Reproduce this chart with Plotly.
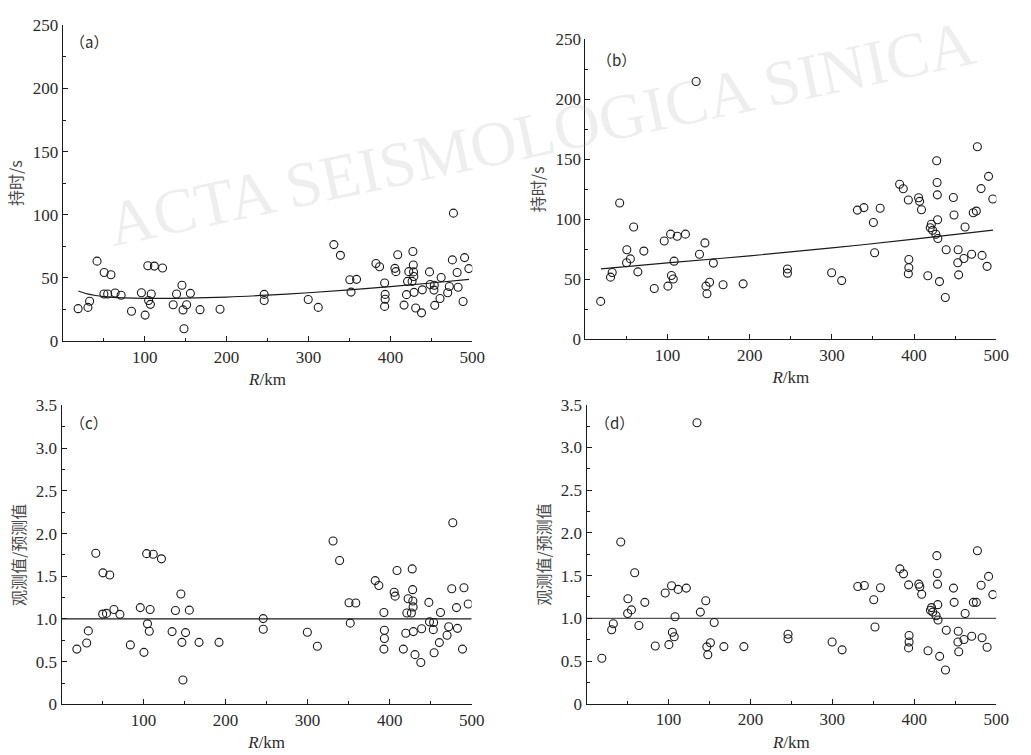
import plotly.graph_objects as go

# ---------------- data ----------------
R = [18.7, 30.7, 32.7, 41.8, 50.5, 50.2, 54.8, 58.8, 63.9, 71.2,
     83.9, 96.0, 100.5, 103.8, 104.8, 107.0, 108.0, 111.8, 121.8, 134.8,
     138.9, 145.5, 146.8, 148.0, 151.2, 155.8, 167.6, 192.0, 245.9, 245.9,
     299.7, 311.9, 331.0, 339.0, 350.5, 352.0, 358.7, 382.4, 386.8, 393.0,
     393.6, 393.6, 393.0, 405.5, 406.7, 409.0, 416.7, 419.7, 421.0, 422.5,
     426.5, 427.5, 428.0, 428.3, 428.6, 428.9, 430.9, 438.0, 439.0, 447.8,
     448.6, 453.6, 453.2, 454.2, 460.6, 462.0, 470.0, 472.0, 475.7, 477.0,
     481.5, 482.7, 488.8, 490.6, 495.8]

dur_a = [25.7, 26.7, 31.6, 63.3, 54.3, 37.3, 37.3, 52.5, 38.1, 36.3,
         23.7, 38.3, 20.6, 59.7, 32.1, 29.1, 37.3, 59.4, 57.9, 28.8,
         37.3, 44.2, 24.7, 9.8, 28.8, 37.8, 24.9, 25.2, 37.0, 32.1,
         32.9, 26.7, 76.4, 67.9, 48.6, 38.8, 48.9, 61.5, 58.9, 46.0,
         37.0, 33.2, 27.5, 57.6, 55.0, 68.4, 28.5, 36.8, 47.3, 55.0,
         47.3, 71.0, 60.2, 54.8, 51.2, 38.6, 26.2, 22.4, 40.6, 54.8,
         44.8, 44.2, 40.4, 28.3, 33.7, 50.4, 38.3, 43.2, 64.3, 101.3,
         54.3, 42.7, 31.4, 66.1, 57.4]

dur_b = [31.7, 51.9, 55.7, 113.6, 74.7, 63.9, 67.1, 93.6, 56.3, 73.6,
         42.5, 82.0, 44.4, 87.7, 53.3, 50.3, 65.2, 86.0, 87.7, 214.8,
         70.9, 80.4, 44.4, 38.1, 47.6, 63.6, 45.5, 46.3, 58.7, 55.2,
         55.5, 49.0, 107.7, 109.8, 97.4, 72.2, 109.3, 129.3, 125.5, 116.1,
         66.6, 59.8, 54.7, 118.0, 115.0, 108.0, 53.0, 93.0, 95.9, 91.0,
         87.6, 148.8, 130.7, 120.4, 99.7, 84.1, 48.2, 34.9, 74.7, 118.2,
         103.6, 74.7, 63.9, 53.8, 67.4, 93.6, 70.9, 105.5, 106.9, 160.5,
         125.6, 70.0, 60.9, 135.8, 116.9]

ratio_c = [0.647, 0.719, 0.860, 1.769, 1.540, 1.057, 1.065, 1.514, 1.110, 1.054,
           0.696, 1.133, 0.609, 1.765, 0.943, 0.856, 1.110, 1.757, 1.704, 0.852,
           1.099, 1.293, 0.726, 0.285, 0.840, 1.103, 0.726, 0.726, 1.004, 0.879,
           0.844, 0.681, 1.913, 1.685, 1.190, 0.951, 1.187, 1.449, 1.392, 1.076,
           0.867, 0.772, 0.647, 1.312, 1.267, 1.567, 0.647, 0.833, 1.069, 1.236,
           1.069, 1.586, 1.343, 1.210, 1.141, 0.852, 0.582, 0.491, 0.886, 1.194,
           0.966, 0.959, 0.875, 0.605, 0.723, 1.076, 0.810, 0.909, 1.354, 2.126,
           1.133, 0.890, 0.647, 1.366, 1.175]

ratio_d = [0.533, 0.867, 0.936, 1.894, 1.229, 1.057, 1.099, 1.533, 0.917, 1.187,
           0.677, 1.297, 0.692, 1.381, 0.837, 0.784, 1.019, 1.339, 1.354, 3.290,
           1.073, 1.206, 0.666, 0.574, 0.715, 0.951, 0.669, 0.669, 0.814, 0.761,
           0.723, 0.631, 1.373, 1.385, 1.217, 0.898, 1.358, 1.579, 1.521, 1.392,
           0.799, 0.723, 0.654, 1.400, 1.369, 1.282, 0.620, 1.095, 1.126, 1.073,
           1.031, 1.734, 1.525, 1.400, 1.160, 0.981, 0.555, 0.396, 0.860, 1.354,
           1.187, 0.848, 0.723, 0.609, 0.753, 1.057, 0.791, 1.187, 1.187, 1.792,
           1.388, 0.772, 0.662, 1.491, 1.278]

fit_R_a = [19, 30, 40, 50, 75, 100, 150, 200, 250, 300, 350, 400, 450, 496]
fit_a = [39.7, 37.4, 36.1, 35.3, 34.3, 33.9, 34.1, 34.9, 36.4, 38.3, 40.6, 43.2, 46.0, 48.8]

fit_R_b = [19, 100, 200, 300, 400, 496]
fit_b = [58.8, 63.8, 69.6, 76.2, 83.5, 91.0]

ref_R = [0, 500]
ref_ratio = [1.0, 1.0]

x_ticks = [100, 200, 300, 400, 500]
x_minor = [50, 150, 250, 350, 450]
dur_ticks = [0, 50, 100, 150, 200, 250]
dur_minor = [25, 75, 125, 175, 225]
ratio_ticks = [0, 0.5, 1.0, 1.5, 2.0, 2.5, 3.0, 3.5]
ratio_ticktext = ["0", "0.5", "1.0", "1.5", "2.0", "2.5", "3.0", "3.5"]
ratio_minor = [0.25, 0.75, 1.25, 1.75, 2.25, 2.75, 3.25]

panel_labels = ["（a）", "（b）", "（c）", "（d）"]
dur_title = "持时/s"
ratio_title = "观测值/预测值"
x_title = "<i>R</i>/km"
watermark = "ACTA SEISMOLOGICA SINICA"

# ---------------- figure ----------------
W, H = 1031, 755
INK = "#1a1a1a"
SERIF = "Liberation Serif, DejaVu Serif, serif"
CJK = "Noto Sans CJK SC, sans-serif"

fig = go.Figure()

marker = dict(symbol="circle-open", size=8, color=INK, line=dict(width=1.1, color=INK))

panels = [
    ("x", "y", dur_a, fit_R_a, fit_a),
    ("x2", "y2", dur_b, fit_R_b, fit_b),
    ("x3", "y3", ratio_c, ref_R, ref_ratio),
    ("x4", "y4", ratio_d, ref_R, ref_ratio),
]
line_colors = [INK, INK, INK, "#555555"]
for i, (xa, ya, vals, lx, ly) in enumerate(panels):
    fig.add_trace(go.Scatter(x=lx, y=ly, mode="lines", xaxis=xa, yaxis=ya,
                             line=dict(color=line_colors[i], width=1.2, shape="spline"),
                             showlegend=False, hoverinfo="skip"))
    fig.add_trace(go.Scatter(x=R, y=vals, mode="markers", xaxis=xa, yaxis=ya,
                             marker=marker, showlegend=False))


def px_x(a, b):
    return [a / W, b / W]


def px_y(top, bottom):
    return [1 - bottom / H, 1 - top / H]


def xaxis(domain, anchor):
    return dict(domain=domain, anchor=anchor, range=[0, 500],
                tickmode="array", tickvals=x_ticks,
                ticks="inside", ticklen=5, tickwidth=1, tickcolor=INK,
                minor=dict(tickmode="array", tickvals=x_minor, ticks="inside",
                           ticklen=3, tickwidth=1, tickcolor=INK),
                showline=True, linecolor=INK, linewidth=1.1,
                showgrid=False, zeroline=False,
                tickfont=dict(family=SERIF, size=17, color="#2b2b2b"),
                title=dict(text=x_title, standoff=7,
                           font=dict(family=SERIF, size=17, color="#2b2b2b")))


def yaxis(domain, anchor, rng, tv, tt, mv, title):
    return dict(domain=domain, anchor=anchor, range=rng,
                tickmode="array", tickvals=tv, ticktext=tt,
                ticks="inside", ticklen=5, tickwidth=1, tickcolor=INK,
                minor=dict(tickmode="array", tickvals=mv, ticks="inside",
                           ticklen=3, tickwidth=1, tickcolor=INK),
                showline=True, linecolor=INK, linewidth=1.1,
                showgrid=False, zeroline=False,
                tickfont=dict(family=SERIF, size=17, color="#2b2b2b"),
                title=dict(text=title, standoff=6,
                           font=dict(family=CJK, size=16, color="#4a4a4a")))


dur_tt = [str(v) for v in dur_ticks]

fig.update_layout(
    width=W, height=H,
    margin=dict(l=0, r=0, t=0, b=0),
    paper_bgcolor="white", plot_bgcolor="white",
    xaxis=xaxis(px_x(63.6, 478.3), "y"),
    yaxis=yaxis(px_y(16.7, 340.7), "x", [0, 250], dur_ticks, dur_tt, dur_minor, dur_title),
    xaxis2=xaxis(px_x(592.8, 1009), "y2"),
    yaxis2=yaxis(px_y(31, 339), "x2", [0, 250], dur_ticks, dur_tt, dur_minor, dur_title),
    xaxis3=xaxis(px_x(62.3, 477.7), "y3"),
    yaxis3=yaxis(px_y(406.7, 713.3), "x3", [0, 3.5], ratio_ticks, ratio_ticktext, ratio_minor, ratio_title),
    xaxis4=xaxis(px_x(594, 1009), "y4"),
    yaxis4=yaxis(px_y(406, 712.7), "x4", [0, 3.5], ratio_ticks, ratio_ticktext, ratio_minor, ratio_title),
)

label_pos = [("x", "y", 0.064, 0.95), ("x2", "y2", 0.075, 0.932),
             ("x3", "y3", 0.0667, 0.9436), ("x4", "y4", 0.0675, 0.9413)]
for (xa, ya, fx, fy), txt in zip(label_pos, panel_labels):
    fig.add_annotation(text=txt, xref=xa + " domain", yref=ya + " domain", x=fx, y=fy,
                       showarrow=False, xanchor="center", yanchor="middle",
                       font=dict(family="Noto Sans CJK SC", size=15, color="#2b2b2b"))

# journal watermark (faint, rotated)
fig.add_annotation(text=watermark, xref="paper", yref="paper",
                   x=548 / W, y=1 - 128 / H, showarrow=False, textangle=-12,
                   xanchor="center", yanchor="middle",
                   font=dict(family=SERIF, size=64, color="rgba(150,150,150,0.16)"))

fig.write_html("out.html")
